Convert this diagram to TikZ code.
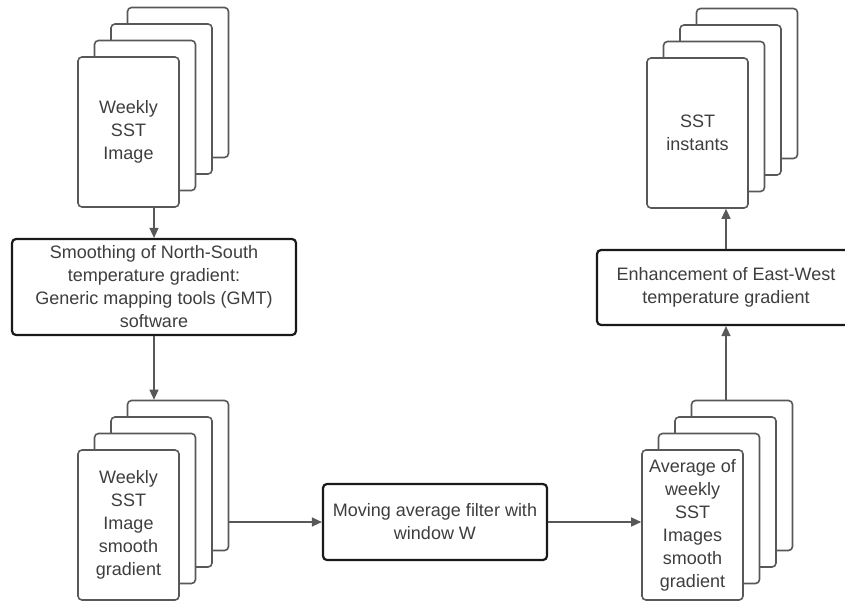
\documentclass[tikz,border=0pt]{standalone}
\usepackage{fontspec}
\setmainfont{Liberation Sans}
\usepackage{xcolor}
\usepackage{tikz}
\usetikzlibrary{arrows.meta, positioning, calc}
\definecolor{sheetgray}{RGB}{88,88,88}
\definecolor{textgray}{RGB}{62,62,62}
\definecolor{boxblack}{RGB}{25,25,25}

\begin{document}
\begin{tikzpicture}[
    x=1pt, y=-1pt,
    sheet/.style={rectangle, draw=sheetgray, line width=1.6pt, rounded corners=4pt, fill=white, minimum width=101pt, minimum height=150pt, inner sep=0pt, align=center, text=textgray, font=\fontsize{18}{23}\selectfont},
    proc/.style={rectangle, draw=boxblack, line width=2.2pt, rounded corners=4pt, fill=white, inner sep=0pt, align=center, text=textgray, font=\fontsize{18}{23}\selectfont},
    arrow/.style={-{Triangle[length=10pt, width=9pt]}, draw=sheetgray, line width=1.3pt}
]
\useasboundingbox[fill=white] (0,0) rectangle (845,601);

% stacks of images (back sheets first)
\foreach \k in {3,2,1} {
    \node[sheet] (s1b\k) at (128.5+16.5*\k, 132-16.5*\k) {};
    \node[sheet] (s2b\k) at (128.5+16.5*\k, 525-16.5*\k) {};
    \node[sheet] (s3b\k) at (692.5+16.5*\k, 525-16.5*\k) {};
    \node[sheet] (s4b\k) at (697.5+16.5*\k, 133-16.5*\k) {};
}
\node[sheet] (weekly) at (128.5,132) {Weekly\\SST\\Image};
\node[sheet] (smooth) at (128.5,525) {Weekly\\SST\\Image\\smooth\\gradient};
\node[sheet] (average) at (692.5,525) {Average of\\weekly\\SST\\Images\\smooth\\gradient};
\node[sheet] (instants) at (697.5,133) {SST\\instants};

% processing steps
\node[proc, minimum width=284pt, minimum height=96pt] (smoothing) at (154,287) {Smoothing of North-South\\temperature gradient:\\Generic mapping tools (GMT)\\software};
\node[proc, minimum width=224pt, minimum height=76pt] (filter) at (435,522) {Moving average filter with\\window W};
\node[proc, minimum width=258pt, minimum height=75pt] (enhance) at (726,287.5) {Enhancement of East-West\\temperature gradient};

\draw[arrow] (smoothing.north |- weekly.south) -- (smoothing.north);
\draw[arrow] (smoothing.south) -- (smoothing.south |- s2b3.north);
\draw[arrow] (s2b3.east |- filter.west) -- (filter.west);
\draw[arrow] (filter.east) -- (filter.east -| average.west);
\draw[arrow] (enhance.south |- s3b3.north) -- (enhance.south);
\draw[arrow] (enhance.north) -- (enhance.north |- instants.south);

\end{tikzpicture}
\end{document}
